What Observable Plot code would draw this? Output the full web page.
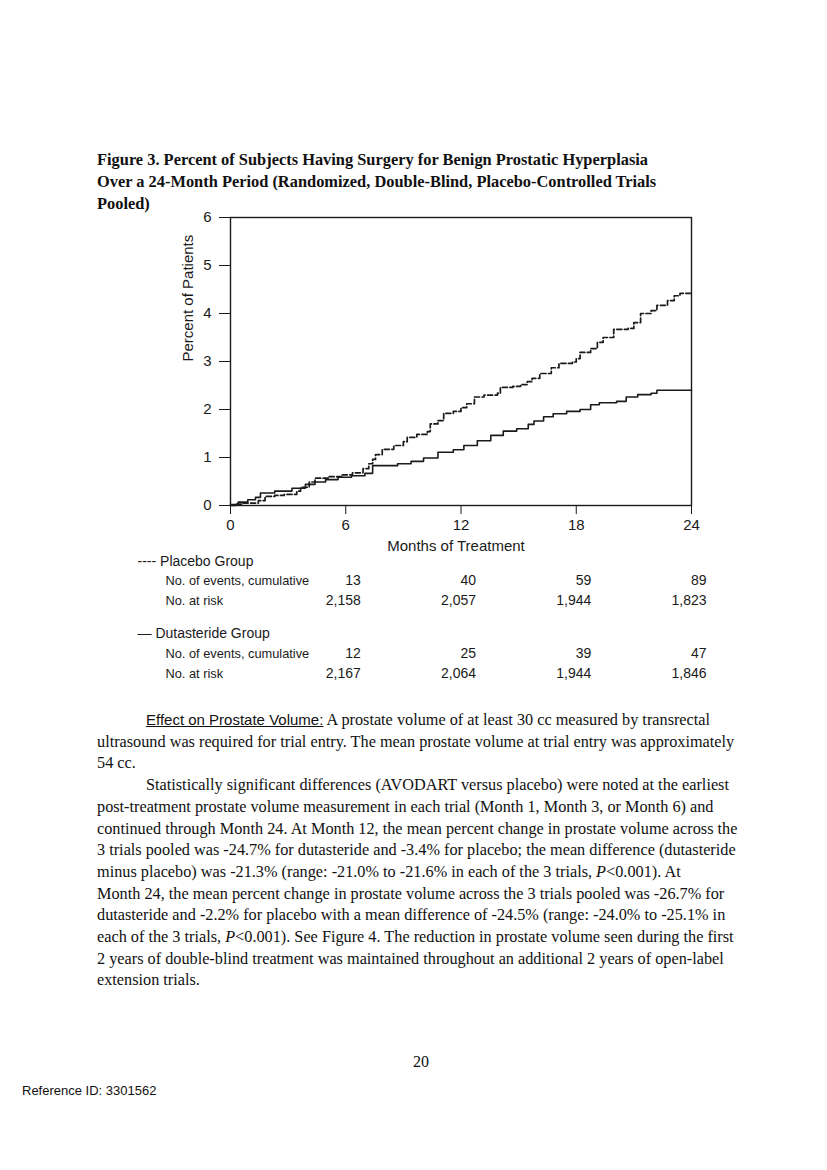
<!DOCTYPE html>
<html>
<head>
<meta charset="utf-8">
<script src="https://cdn.jsdelivr.net/npm/d3@7"></script>
<script src="https://cdn.jsdelivr.net/npm/@observablehq/plot@0.6"></script>
<style>
  html, body { margin: 0; padding: 0; background: #fff; }
  body { width: 827px; height: 1170px; position: relative; overflow: hidden; color: #111; }
  .title { position: absolute; left: 97px; top: 149px; font-family: "Liberation Serif", "Times New Roman", serif; font-weight: bold; font-size: 16.4px; line-height: 22px; white-space: nowrap; }
  #chart { position: absolute; left: 0; top: 205px; }
  .body { position: absolute; left: 97px; top: 709px; font-family: "Liberation Serif", "Times New Roman", serif; font-size: 16.25px; line-height: 21.7px; white-space: nowrap; }
  .ind { display: inline-block; width: 49px; }
  .sans-u { font-family: "Liberation Sans", Arial, sans-serif; text-decoration: underline; font-size: 15px; }
  .pageno { position: absolute; left: 0; width: 842px; top: 1053px; text-align: center; font-family: "Liberation Serif", serif; font-size: 16px; }
  .refid { position: absolute; left: 22px; top: 1083px; font-family: "Liberation Sans", Arial, sans-serif; font-size: 13px; }
</style>
</head>
<body>
<div class="title">Figure 3. Percent of Subjects Having Surgery for Benign Prostatic Hyperplasia<br>Over a 24-Month Period (Randomized, Double-Blind, Placebo-Controlled Trials<br>Pooled)</div>
<div id="chart"></div>
<div class="body"><span class="ind"></span><span class="sans-u">Effect on Prostate Volume:</span> A prostate volume of at least 30 cc measured by transrectal<br>ultrasound was required for trial entry. The mean prostate volume at trial entry was approximately<br>54 cc.<br><span class="ind"></span>Statistically significant differences (AVODART versus placebo) were noted at the earliest<br>post-treatment prostate volume measurement in each trial (Month 1, Month 3, or Month 6) and<br>continued through Month 24. At Month 12, the mean percent change in prostate volume across the<br>3 trials pooled was -24.7% for dutasteride and -3.4% for placebo; the mean difference (dutasteride<br>minus placebo) was -21.3% (range: -21.0% to -21.6% in each of the 3 trials, <i>P</i>&lt;0.001). At<br>Month 24, the mean percent change in prostate volume across the 3 trials pooled was -26.7% for<br>dutasteride and -2.2% for placebo with a mean difference of -24.5% (range: -24.0% to -25.1% in<br>each of the 3 trials, <i>P</i>&lt;0.001). See Figure 4. The reduction in prostate volume seen during the first<br>2 years of double-blind treatment was maintained throughout an additional 2 years of open-label<br>extension trials.</div>
<div class="pageno">20</div>
<div class="refid">Reference ID: 3301562</div>
<script>
// ---- Data ----
const placeboMonths = [0, 0.3, 0.6, 1.45, 1.8, 2.3, 2.8, 3.45, 3.65, 4.1, 4.4, 5.1, 5.8, 6.35, 6.9, 7.2, 7.4, 7.55, 7.9, 8.5, 9.0, 9.2, 9.7, 10.25, 10.4, 10.8, 11.1, 11.6, 12.0, 12.3, 12.7, 13.2, 13.9, 14.05, 14.7, 15.1, 15.45, 15.7, 16.1, 16.7, 17.1, 17.8, 18.0, 18.2, 18.75, 19.1, 19.4, 19.95, 20.7, 21.0, 21.35, 21.9, 22.2, 22.75, 23.1, 23.4, 24];
const placeboPct = [0, 0.03, 0.05, 0.1, 0.19, 0.21, 0.23, 0.3, 0.38, 0.49, 0.57, 0.6, 0.64, 0.68, 0.77, 0.87, 0.96, 1.06, 1.17, 1.25, 1.33, 1.42, 1.48, 1.54, 1.7, 1.77, 1.92, 1.96, 2.04, 2.12, 2.26, 2.3, 2.34, 2.46, 2.48, 2.52, 2.58, 2.65, 2.75, 2.87, 2.96, 2.99, 3.06, 3.19, 3.27, 3.4, 3.5, 3.67, 3.69, 3.81, 4.0, 4.06, 4.17, 4.27, 4.37, 4.42, 4.42];
const dutaMonths = [0, 0.4, 0.9, 1.3, 1.56, 2.3, 3.2, 3.9, 4.4, 4.95, 5.6, 6.3, 7.0, 7.4, 8.7, 9.4, 10.05, 10.8, 11.6, 12.15, 12.85, 13.55, 14.2, 14.9, 15.5, 15.8, 16.3, 16.8, 17.5, 18.2, 18.75, 19.2, 20.1, 20.6, 21.2, 21.9, 22.2, 24];
const dutaPct = [0.02, 0.07, 0.12, 0.17, 0.26, 0.3, 0.36, 0.44, 0.49, 0.54, 0.59, 0.62, 0.67, 0.83, 0.87, 0.92, 0.99, 1.11, 1.16, 1.25, 1.35, 1.46, 1.55, 1.6, 1.69, 1.76, 1.85, 1.91, 1.96, 2.0, 2.1, 2.14, 2.17, 2.26, 2.31, 2.34, 2.4, 2.4];

const xTicks = [0, 6, 12, 18, 24];
const yTicks = [0, 1, 2, 3, 4, 5, 6];

const tableMonths = [6, 12, 18, 24];
const placeboEvents = [13, 40, 59, 89];
const placeboAtRisk = [2158, 2057, 1944, 1823];
const dutaEvents = [12, 25, 39, 47];
const dutaAtRisk = [2167, 2064, 1944, 1846];

const groupLabels = ["---- Placebo Group", "\u2014 Dutasteride Group"];
const rowLabels = ["No. of events, cumulative", "No. at risk"];
const xLabel = "Months of Treatment";
const yLabel = "Percent of Patients";

// ---- Build tables ----
const placebo = placeboMonths.map((m, i) => ({month: m, pct: placeboPct[i]}));
const duta = dutaMonths.map((m, i) => ({month: m, pct: dutaPct[i]}));
const fmt = d3.format(",");
const numberRows = [
  {dy: 79, values: placeboEvents.map(String)},
  {dy: 99, values: placeboAtRisk.map(fmt)},
  {dy: 152, values: dutaEvents.map(String)},
  {dy: 172, values: dutaAtRisk.map(fmt)}
];
const labelRows = [
  {text: groupLabels[0], dy: 60, dx: -93, size: 14},
  {text: rowLabels[0], dy: 79, dx: -65, size: 12.8},
  {text: rowLabels[1], dy: 99, dx: -65, size: 12.8},
  {text: groupLabels[1], dy: 132, dx: -93, size: 14},
  {text: rowLabels[0], dy: 152, dx: -65, size: 12.8},
  {text: rowLabels[1], dy: 172, dx: -65, size: 12.8}
];

const font = '"Liberation Sans Narrow", "Arial Narrow", "Liberation Sans", Arial, sans-serif';
const ink = "#1a1a1a";

const marks = [
  Plot.frame({stroke: ink, strokeWidth: 1.4}),
  Plot.axisX({ticks: xTicks, tickSize: 9, tickPadding: 5, label: null, stroke: ink, fill: ink}),
  Plot.axisY({ticks: yTicks, tickFormat: d3.format("d"), tickSize: 11, tickPadding: 8, label: null, stroke: ink, fill: ink}),
  Plot.line(placebo, {x: "month", y: "pct", curve: "step-after", stroke: ink, strokeWidth: 1.7, strokeDasharray: "5,2.5"}),
  Plot.line(duta, {x: "month", y: "pct", curve: "step-after", stroke: ink, strokeWidth: 1.6}),
  Plot.text([xLabel], {frameAnchor: "bottom", dx: -5, dy: 45, text: d => d, fill: ink}),
  Plot.text([yLabel], {frameAnchor: "left", dx: -42, rotate: -90, text: d => d, fill: ink})
];
numberRows.forEach(r => {
  marks.push(Plot.text(tableMonths, {x: d => d, frameAnchor: "bottom", dy: r.dy, dx: 15,
    text: (d, i) => r.values[i], textAnchor: "end", fill: ink, fontSize: 14}));
});
labelRows.forEach(r => {
  marks.push(Plot.text([r.text], {frameAnchor: "bottom-left", dx: r.dx, dy: r.dy, text: d => d,
    textAnchor: "start", fill: ink, fontSize: r.size}));
});

const chart = Plot.plot({
  width: 827,
  height: 485,
  marginLeft: 230,
  marginRight: 136,
  marginTop: 12,
  marginBottom: 185,
  style: {fontFamily: font, fontSize: "15px", background: "transparent", color: ink, overflow: "visible"},
  x: {domain: [0, 24]},
  y: {domain: [0, 6]},
  marks
});
document.getElementById("chart").appendChild(chart);
</script>
</body>
</html>
